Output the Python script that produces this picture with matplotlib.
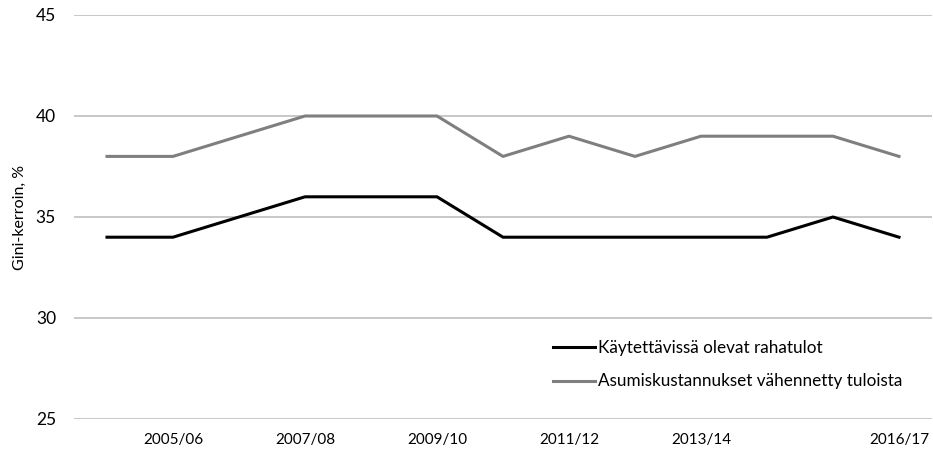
import matplotlib.pyplot as plt

years = ['2004/05', '2005/06', '2006/07', '2007/08', '2008/09', '2009/10', '2010/11',
         '2011/12', '2012/13', '2013/14', '2014/15', '2015/16', '2016/17']
kaytettavissa = [34, 34, 35, 36, 36, 36, 34, 34, 34, 34, 34, 35, 34]
asumis = [38, 38, 39, 40, 40, 40, 38, 39, 38, 39, 39, 39, 38]
shown_ticks = [1, 3, 5, 7, 9, 12]
yticks = [25, 30, 35, 40, 45]

plt.rcParams['font.family'] = ['Lato', 'DejaVu Sans']

fig = plt.figure(figsize=(9.33, 4.53), dpi=100, facecolor='w')
ax = fig.add_axes([74/933, 34/453, 858/933, 404/453])

x = list(range(len(years)))
ax.plot(x, kaytettavissa, color='black', lw=2.2, label='Käytettävissä olevat rahatulot')
ax.plot(x, asumis, color='#7f7f7f', lw=2.2, label='Asumiskustannukset vähennetty tuloista')

ax.set_xlim(-0.5, len(years) - 0.5)
ax.set_ylim(25, 45)
ax.set_yticks(yticks)
ax.set_xticks(shown_ticks)
ax.set_xticklabels([years[i] for i in shown_ticks])
ax.tick_params(axis='y', length=0, pad=13, labelsize=12.5)
ax.tick_params(axis='x', length=0, pad=10, labelsize=11)
ax.yaxis.grid(True, color='#bfbfbf', lw=1.2)
ax.set_axisbelow(True)
for s in ax.spines.values():
    s.set_visible(False)

ax.set_ylabel('Gini-kerroin, %', fontsize=11.5, labelpad=6)

ax.legend(loc='lower left', bbox_to_anchor=(0.54, 0.035), frameon=False, fontsize=12.3,
          handlelength=2.5, handletextpad=0.15, labelspacing=1.0)

plt.savefig('out.png', dpi=100)
